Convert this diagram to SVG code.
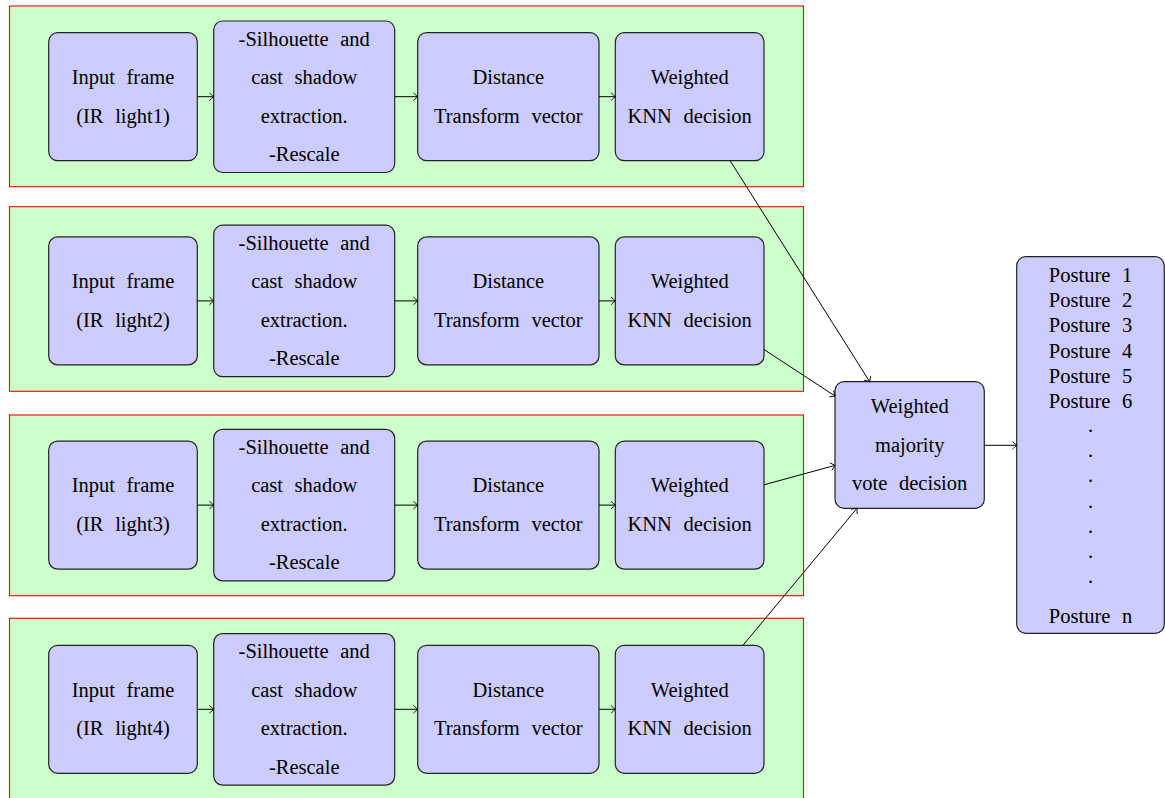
<svg xmlns="http://www.w3.org/2000/svg" width="1165" height="798" viewBox="0 0 1165 798">
<style>
.cont{fill:#ccffcc;stroke:#ff0000;stroke-width:1.1}
.node{fill:#ccccff;stroke:#222;stroke-width:1.2}
.t{font-family:'Liberation Serif','Times New Roman',Times,'DejaVu Serif',serif;font-size:20.5px;fill:#000;text-anchor:middle;word-spacing:6.5px}
.conn line{stroke:#000;stroke-width:1;fill:none;marker-end:url(#arr)}
</style>
<defs>
<marker id="arr" markerUnits="userSpaceOnUse" viewBox="-6 -5 8 10" refX="0" refY="0" markerWidth="8" markerHeight="10" orient="auto">
<path d="M-4,-3.6 Q-1.2,-1 0,0 Q-1.2,1 -4,3.6" fill="none" stroke="#000" stroke-width="0.9" stroke-linecap="round"/>
</marker>
</defs>
<g id="containers">
<rect id="row1" class="cont" x="9.5" y="6" width="794" height="180.7"/>
<rect id="row2" class="cont" x="9.5" y="206.7" width="794" height="184.6"/>
<rect id="row3" class="cont" x="9.5" y="415" width="794" height="180.7"/>
<rect id="row4" class="cont" x="9.5" y="618.3" width="794" height="186"/>
</g>
<g class="t" font-family="Liberation Serif, serif">
<g id="in1"><rect class="node" x="48.7" y="32.7" width="148.6" height="128" rx="9"/><text x="123" y="84">Input frame</text><text x="123" y="122.5">(IR light1)</text></g>
<g id="sil1"><rect class="node" x="213.7" y="21" width="181" height="151.5" rx="9"/><text x="304.2" y="45.5">-Silhouette and</text><text x="304.2" y="84">cast shadow</text><text x="304.2" y="122.5">extraction.</text><text x="304.2" y="161">-Rescale</text></g>
<g id="dt1"><rect class="node" x="417.7" y="32.7" width="181.3" height="128" rx="9"/><text x="508.3" y="84">Distance</text><text x="508.3" y="122.5">Transform vector</text></g>
<g id="knn1"><rect class="node" x="615.3" y="32.7" width="148.7" height="128" rx="9"/><text x="689.7" y="84">Weighted</text><text x="689.7" y="122.5">KNN decision</text></g>
<g id="in2"><rect class="node" x="48.7" y="236.9" width="148.6" height="128" rx="9"/><text x="123" y="288.2">Input frame</text><text x="123" y="326.7">(IR light2)</text></g>
<g id="sil2"><rect class="node" x="213.7" y="225.2" width="181" height="151.5" rx="9"/><text x="304.2" y="249.7">-Silhouette and</text><text x="304.2" y="288.2">cast shadow</text><text x="304.2" y="326.7">extraction.</text><text x="304.2" y="365.2">-Rescale</text></g>
<g id="dt2"><rect class="node" x="417.7" y="236.9" width="181.3" height="128" rx="9"/><text x="508.3" y="288.2">Distance</text><text x="508.3" y="326.7">Transform vector</text></g>
<g id="knn2"><rect class="node" x="615.3" y="236.9" width="148.7" height="128" rx="9"/><text x="689.7" y="288.2">Weighted</text><text x="689.7" y="326.7">KNN decision</text></g>
<g id="in3"><rect class="node" x="48.7" y="441.1" width="148.6" height="128" rx="9"/><text x="123" y="492.4">Input frame</text><text x="123" y="530.9">(IR light3)</text></g>
<g id="sil3"><rect class="node" x="213.7" y="429.4" width="181" height="151.5" rx="9"/><text x="304.2" y="453.9">-Silhouette and</text><text x="304.2" y="492.4">cast shadow</text><text x="304.2" y="530.9">extraction.</text><text x="304.2" y="569.4">-Rescale</text></g>
<g id="dt3"><rect class="node" x="417.7" y="441.1" width="181.3" height="128" rx="9"/><text x="508.3" y="492.4">Distance</text><text x="508.3" y="530.9">Transform vector</text></g>
<g id="knn3"><rect class="node" x="615.3" y="441.1" width="148.7" height="128" rx="9"/><text x="689.7" y="492.4">Weighted</text><text x="689.7" y="530.9">KNN decision</text></g>
<g id="in4"><rect class="node" x="48.7" y="645.3" width="148.6" height="128" rx="9"/><text x="123" y="696.6">Input frame</text><text x="123" y="735.1">(IR light4)</text></g>
<g id="sil4"><rect class="node" x="213.7" y="633.6" width="181" height="151.5" rx="9"/><text x="304.2" y="658.1">-Silhouette and</text><text x="304.2" y="696.6">cast shadow</text><text x="304.2" y="735.1">extraction.</text><text x="304.2" y="773.6">-Rescale</text></g>
<g id="dt4"><rect class="node" x="417.7" y="645.3" width="181.3" height="128" rx="9"/><text x="508.3" y="696.6">Distance</text><text x="508.3" y="735.1">Transform vector</text></g>
<g id="knn4"><rect class="node" x="615.3" y="645.3" width="148.7" height="128" rx="9"/><text x="689.7" y="696.6">Weighted</text><text x="689.7" y="735.1">KNN decision</text></g>
<g id="vote"><rect class="node" x="835" y="381.7" width="149.3" height="126.6" rx="9"/><text x="909.7" y="413.3">Weighted</text><text x="909.7" y="451.7">majority</text><text x="909.7" y="490">vote decision</text></g>
<g id="postures"><rect class="node" x="1016.7" y="256.7" width="147.6" height="376.6" rx="9"/>
<text x="1090.5" y="282">Posture 1</text>
<text x="1090.5" y="307.2">Posture 2</text>
<text x="1090.5" y="332.4">Posture 3</text>
<text x="1090.5" y="357.6">Posture 4</text>
<text x="1090.5" y="382.8">Posture 5</text>
<text x="1090.5" y="408">Posture 6</text>
<text x="1090.5" y="432">.</text>
<text x="1090.5" y="457">.</text>
<text x="1090.5" y="482.3">.</text>
<text x="1090.5" y="507.7">.</text>
<text x="1090.5" y="532.7">.</text>
<text x="1090.5" y="557.7">.</text>
<text x="1090.5" y="583.3">.</text>
<text x="1090.5" y="622.7">Posture n</text>
</g>
</g>
<g id="connectors" class="conn">
<line x1="197.3" y1="96.7" x2="213.7" y2="96.7"/>
<line x1="394.7" y1="96.7" x2="417.7" y2="96.7"/>
<line x1="599" y1="96.7" x2="615.3" y2="96.7"/>
<line x1="197.3" y1="300.9" x2="213.7" y2="300.9"/>
<line x1="394.7" y1="300.9" x2="417.7" y2="300.9"/>
<line x1="599" y1="300.9" x2="615.3" y2="300.9"/>
<line x1="197.3" y1="505.1" x2="213.7" y2="505.1"/>
<line x1="394.7" y1="505.1" x2="417.7" y2="505.1"/>
<line x1="599" y1="505.1" x2="615.3" y2="505.1"/>
<line x1="197.3" y1="709.3" x2="213.7" y2="709.3"/>
<line x1="394.7" y1="709.3" x2="417.7" y2="709.3"/>
<line x1="599" y1="709.3" x2="615.3" y2="709.3"/>
<line x1="730.1" y1="160.7" x2="869.7" y2="381.7"/>
<line x1="764" y1="349.5" x2="835" y2="396"/>
<line x1="764" y1="484.8" x2="835" y2="465.4"/>
<line x1="743" y1="645.3" x2="857" y2="508.3"/>
<line x1="984.3" y1="445.3" x2="1016.7" y2="445.3"/>
</g>
</svg>
